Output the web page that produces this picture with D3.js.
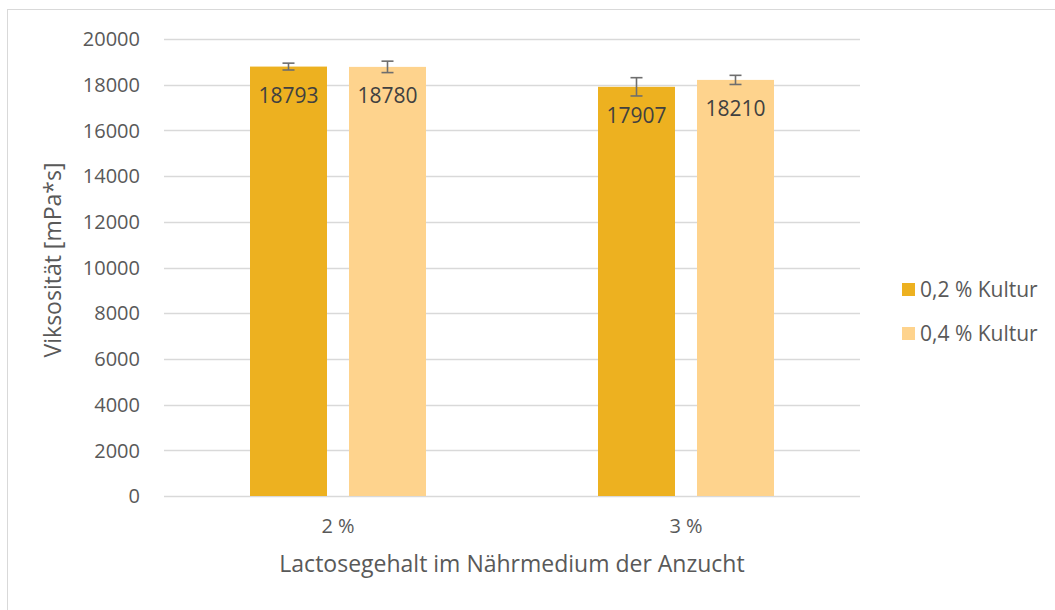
<!DOCTYPE html>
<html><head><meta charset="utf-8">
<script src="https://cdn.jsdelivr.net/npm/d3@7"></script>
<style>body{margin:0;background:#fff}svg{display:block}text{font-family:"Open Sans","Noto Sans",sans-serif;fill:#595959}</style>
</head><body><svg id="c" width="1055" height="610"></svg>
<script>
const categories = ["2 %", "3 %"];
const seriesNames = ["0,2 % Kultur", "0,4 % Kultur"];
const values02 = [18793, 17907];
const values04 = [18780, 18210];
const errors02 = [150, 400];
const errors04 = [250, 200];
const yTicks = [0,2000,4000,6000,8000,10000,12000,14000,16000,18000,20000];
const colors = ["#EDB120", "#FED38D"];

const svg = d3.select("#c");
svg.append("rect").attr("x",7.5).attr("y",9.5).attr("width",1100).attr("height",700)
  .attr("fill","none").attr("stroke","#d9d9d9").attr("stroke-width",1);

const y = d3.scaleLinear().domain([0,20000]).range([496,39]);
const x = d3.scaleBand().domain(categories).range([164,860]).paddingInner(0).paddingOuter(0);
const xs = d3.scaleBand().domain(seriesNames).range([86,262]).paddingInner(0.2222).paddingOuter(0);

// gridlines
svg.append("g").selectAll("line").data(yTicks).join("line")
  .attr("x1",164).attr("x2",860).attr("y1",d=>Math.round(y(d))+0.5).attr("y2",d=>Math.round(y(d))+0.5)
  .attr("stroke","#d9d9d9").attr("stroke-width",1.3);

// y tick labels
svg.append("g").selectAll("text").data(yTicks).join("text")
  .attr("x",140).attr("y",d=>y(d)).attr("dy","0.36em").attr("text-anchor","end")
  .attr("font-size",20).text(d=>d);

const data = [];
categories.forEach((c,i)=>{
  data.push({c, s:seriesNames[0], v:values02[i], e:errors02[i], col:colors[0]});
  data.push({c, s:seriesNames[1], v:values04[i], e:errors04[i], col:colors[1]});
});

svg.append("g").selectAll("rect").data(data).join("rect")
  .attr("x",d=>x(d.c)+xs(d.s)).attr("width",xs.bandwidth())
  .attr("y",d=>y(d.v)).attr("height",d=>y(0)-y(d.v)).attr("fill",d=>d.col);

// error bars
const eg = svg.append("g").attr("stroke","#6e6e6e").attr("stroke-width",1.6);
data.forEach(d=>{
  const cx = x(d.c)+xs(d.s)+xs.bandwidth()/2;
  eg.append("line").attr("x1",cx).attr("x2",cx).attr("y1",y(d.v+d.e)).attr("y2",y(d.v-d.e));
  [d.v+d.e, d.v-d.e].forEach(v=>eg.append("line").attr("x1",cx-6).attr("x2",cx+6).attr("y1",y(v)).attr("y2",y(v)));
});

// data labels
svg.append("g").selectAll("text").data(data).join("text")
  .attr("x",d=>x(d.c)+xs(d.s)+xs.bandwidth()/2).attr("y",d=>y(d.v)+36)
  .attr("text-anchor","middle").attr("font-size",21).style("fill","#404040").text(d=>d.v);

// x tick labels
svg.append("g").selectAll("text").data(categories).join("text")
  .attr("x",d=>x(d)+x.bandwidth()/2).attr("y",533).attr("text-anchor","middle").attr("font-size",20).text(d=>d);

// axis titles
svg.append("text").attr("x",512).attr("y",572).attr("text-anchor","middle").attr("font-size",23)
  .text("Lactosegehalt im Nährmedium der Anzucht");
svg.append("text").attr("transform","translate(61,260) rotate(-90)").attr("text-anchor","middle").attr("font-size",23)
  .text("Viksosität [mPa*s]");

// legend
const lg = svg.append("g");
seriesNames.forEach((s,i)=>{
  const yy = 283 + i*44;
  lg.append("rect").attr("x",902).attr("y",yy).attr("width",13).attr("height",13).attr("fill",colors[i]);
  lg.append("text").attr("x",920).attr("y",yy+14).attr("font-size",21).text(s);
});
</script></body></html>
